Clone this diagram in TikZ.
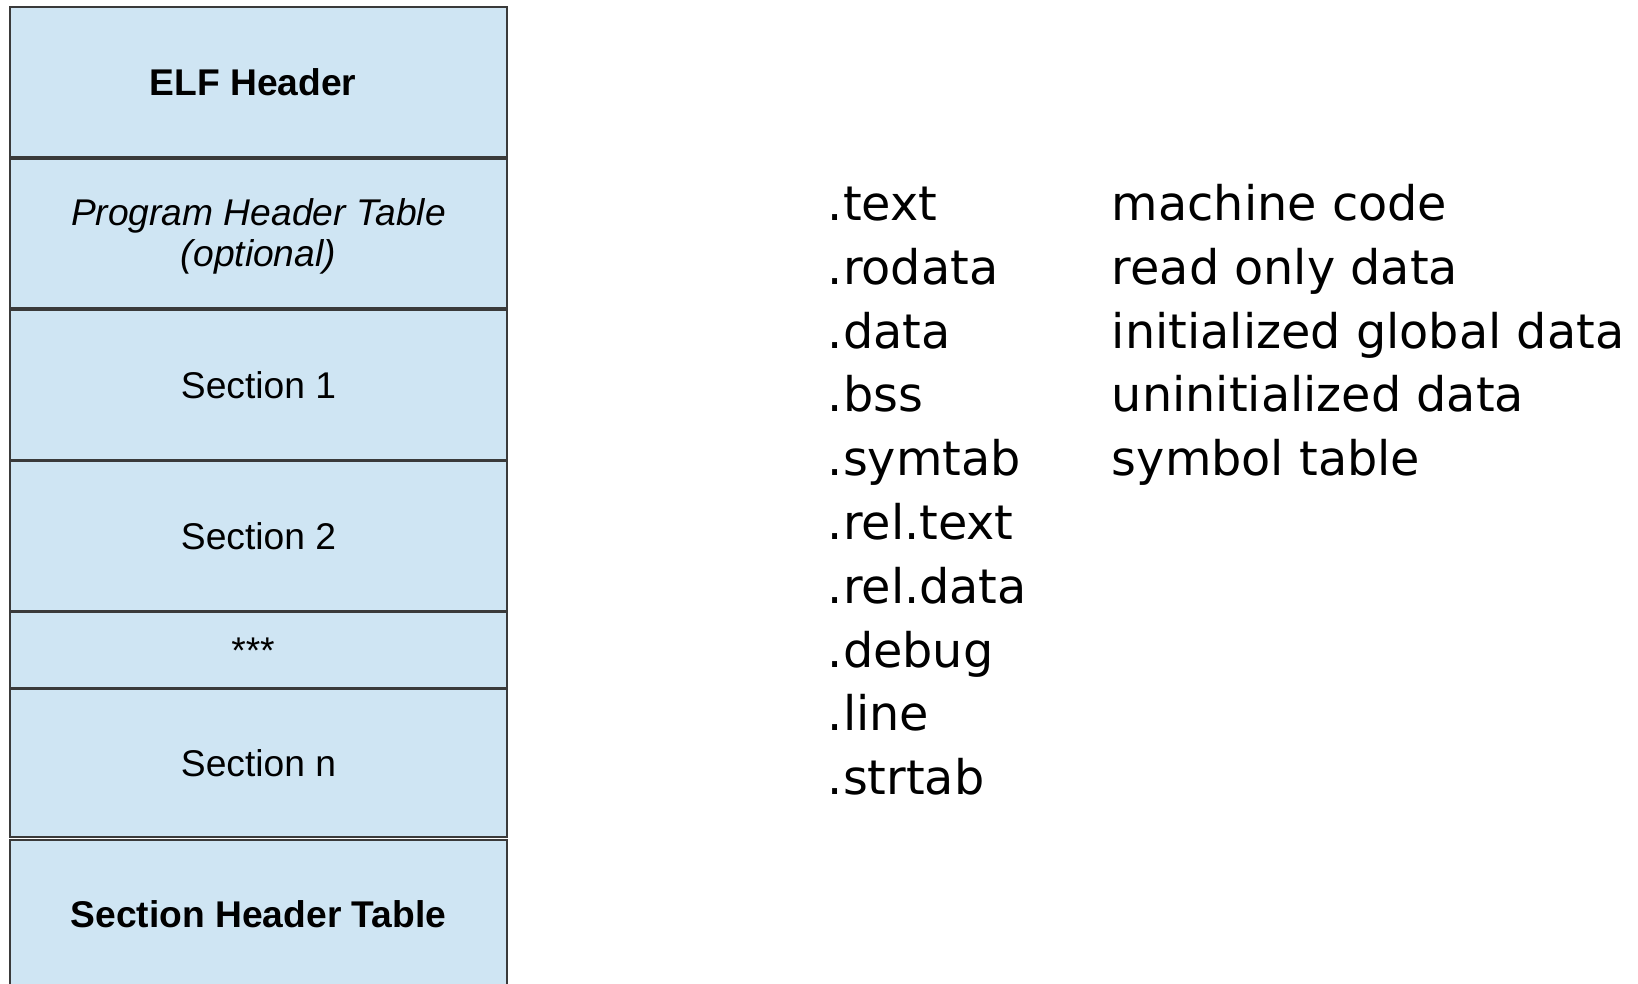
\documentclass[tikz,border=0pt]{standalone}
\usepackage{fontspec}
\setmainfont{Liberation Sans}
\newfontfamily\listfont{DejaVu Sans}
\definecolor{cellfill}{HTML}{CFE5F3}
\definecolor{cellline}{HTML}{3A3A3A}
\begin{document}
\begin{tikzpicture}[x=0.5pt,y=-0.5pt,
  cell/.style={draw=cellline,fill=cellfill,line width=0.7pt,
    minimum width=248.5pt,inner sep=0pt,outer sep=0pt,
    font=\fontsize{18.6pt}{20.5pt}\selectfont},
  oneline/.style={text height=13.3pt,text depth=0pt},
  celltext/.style={inner sep=0pt,align=center,
    font=\fontsize{18.6pt}{20.5pt}\selectfont},
  secname/.style={anchor=base west,inner sep=0pt,
    font=\listfont\fontsize{23.85pt}{28pt}\selectfont},
  secdesc/.style={secname}]
\useasboundingbox (0,0) rectangle (1638,984);
\fill[white] (0,0) rectangle (1638,984);

% ELF file layout, top to bottom
\node[cell,oneline,minimum height=75pt]  (elf)  at (258.5,82)    {\bfseries ELF Header\kern5.5pt};
\node[cell,minimum height=74.5pt]        (pht)  at (258.5,233.5) {};
\node[celltext] (phttext) at (pht.center) [yshift=-1.6pt] {\itshape Program Header Table\\\itshape (optional)};
\node[cell,oneline,minimum height=75pt]  (sec1) at (258.5,385)   {Section 1};
\node[cell,oneline,minimum height=75pt]  (sec2) at (258.5,536)   {Section 2};
\node[cell,oneline,minimum height=38pt]  (dots) at (258.5,650)   {***\kern5.5pt};
\node[cell,oneline,minimum height=74pt]  (secn) at (258.5,763)   {Section n};
\node[cell,oneline,minimum height=74pt]  (sht)  at (258.5,914)   {\bfseries Section Header Table};

% common section names and their contents
\node[secname] (n1)  at (827.5,220.5) {.text};
\node[secname] (n2)  at (827.5,284.3) {.rodata};
\node[secname] (n3)  at (827.5,348.1) {.data};
\node[secname] (n4)  at (827.5,411.9) {.bss};
\node[secname] (n5)  at (827.5,475.7) {.symtab};
\node[secname] (n6)  at (827.5,539.5) {.rel.text};
\node[secname] (n7)  at (827.5,603.3) {.rel.data};
\node[secname] (n8)  at (827.5,667.1) {.debug};
\node[secname] (n9)  at (827.5,730.9) {.line};
\node[secname] (n10) at (827.5,794.7) {.strtab};

\node[secdesc] (d1) at (1111.5,220.5) {machine code};
\node[secdesc] (d2) at (1111.5,284.3) {read only data};
\node[secdesc] (d3) at (1111.5,348.1) {initialized global data};
\node[secdesc] (d4) at (1111.5,411.9) {uninitialized data};
\node[secdesc] (d5) at (1111.5,475.7) {symbol table};
\end{tikzpicture}
\end{document}
